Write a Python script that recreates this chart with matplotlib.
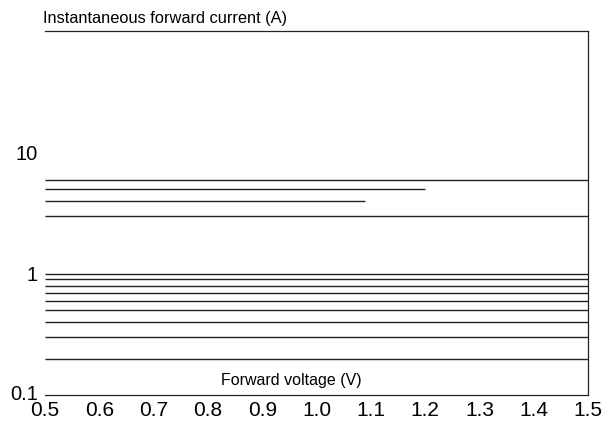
import matplotlib
matplotlib.use("Agg")
import matplotlib.pyplot as plt
import matplotlib.transforms as mtransforms

plt.rcParams['font.family'] = ['Liberation Sans', 'DejaVu Sans']

# Data: horizontal current levels (A) and the voltage (V) range each spans
current_levels = [6, 5, 4, 3, 1, 0.9, 0.8, 0.7, 0.6, 0.5, 0.4, 0.3, 0.2]
voltage_start = [0.5] * len(current_levels)
voltage_end = [1.5, 1.2, 1.09, 1.5, 1.5, 1.5, 1.5, 1.5, 1.5, 1.5, 1.5, 1.5, 1.5]
x_ticks = [0.5, 0.6, 0.7, 0.8, 0.9, 1.0, 1.1, 1.2, 1.3, 1.4, 1.5]
x_tick_labels = ["0.5", "0.6", "0.7", "0.8", "0.9", "1.0", "1.1", "1.2", "1.3", "1.4", "1.5"]
y_ticks = [0.1, 1, 10]
y_tick_labels = ["0.1", "1", "10"]

W, H = 614, 426
L, R, T, B = 45, 588, 31.5, 395
fig = plt.figure(figsize=(W/100, H/100), dpi=100)
ax = fig.add_axes([L/W, 1 - B/H, (R-L)/W, (B-T)/H])

for y, x0, x1 in zip(current_levels, voltage_start, voltage_end):
    ax.plot([x0, x1], [y, y], color='#222222', lw=1.0, solid_capstyle='butt')

ax.set_yscale('log')
ax.set_xlim(0.5, 1.5)
ax.set_ylim(0.1, 100)
ax.set_xticks(x_ticks)
ax.set_xticklabels(x_tick_labels, fontsize=15)
ax.set_yticks(y_ticks)
ax.set_yticklabels(y_tick_labels, fontsize=14.5)
ax.yaxis.set_minor_locator(matplotlib.ticker.NullLocator())
ax.tick_params(axis='both', length=0)
ax.tick_params(axis='x', pad=4.5)
ax.tick_params(axis='y', pad=5)
ax.spines['left'].set_visible(False)
for s in ['top', 'right', 'bottom']:
    ax.spines[s].set_linewidth(0.9)
    ax.spines[s].set_color('#222222')

# nudge the bottom y label up slightly, as in the reference
lbl = ax.get_yticklabels()[0]
lbl.set_transform(lbl.get_transform() +
                  mtransforms.ScaledTranslation(0, 3/100, fig.dpi_scale_trans))

fig.text(43/W, 1 - 18/H, "Instantaneous forward current (A)", fontsize=11.8,
         ha='left', va='center')
fig.text(291/W, 1 - 380.7/H, "Forward voltage (V)", fontsize=11.5,
         ha='center', va='center')

fig.savefig("out.png", dpi=100)
